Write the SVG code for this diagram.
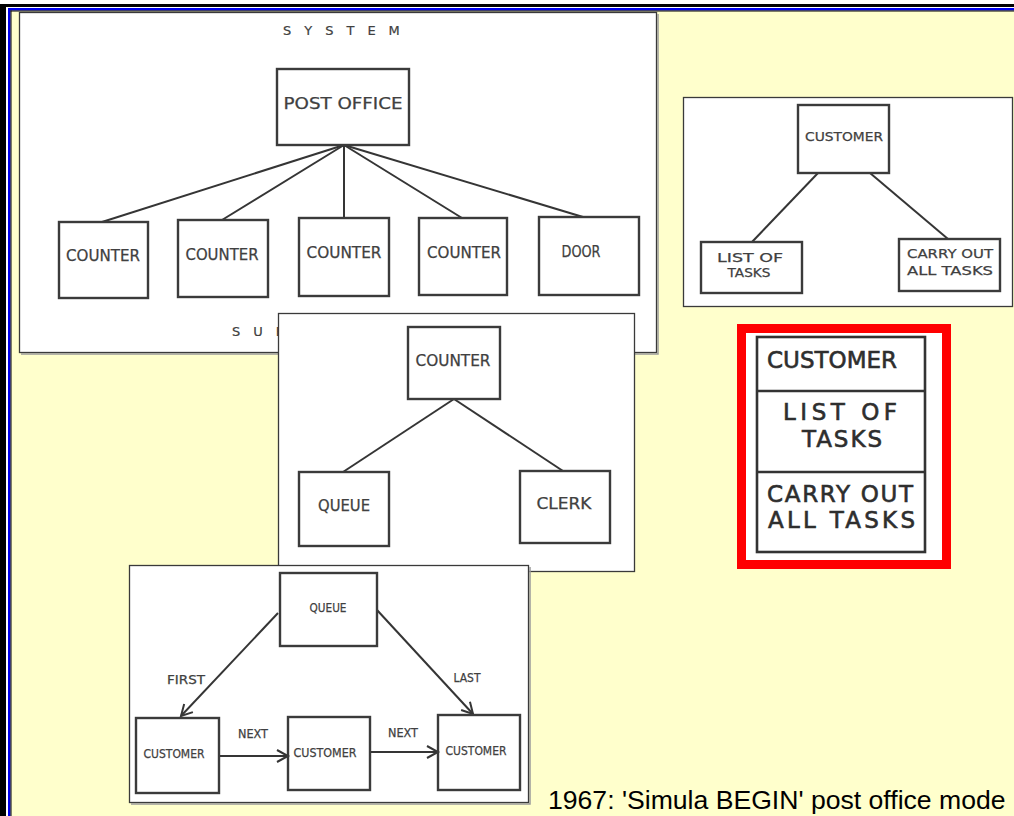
<svg xmlns="http://www.w3.org/2000/svg" width="1014" height="816" viewBox="0 0 1014 816">
  <style>
    .panel { fill: #ffffff; stroke: #3a3a3a; stroke-width: 1.3; }
    .shadow { fill: none; stroke: #9a9a9a; stroke-width: 1.5; }
    .box { fill: none; stroke: #3b3b3b; stroke-width: 2.4; }
    .wire { fill: none; stroke: #353535; stroke-width: 2; }
    .lbl { font-family: "DejaVu Sans", "Liberation Sans", sans-serif; fill: #404040; stroke: #404040; stroke-width: 0.25; text-anchor: middle; }
    .big { font-family: "DejaVu Sans", "Liberation Sans", sans-serif; fill: #2e2e2e; stroke: #2e2e2e; stroke-width: 0.6; font-size: 23px; }
    .spaced { font-family: "DejaVu Sans", "Liberation Sans", sans-serif; fill: #404040; stroke: #404040; stroke-width: 0.2; font-size: 13px; letter-spacing: 13px; }
  </style>
  <defs>
    <marker id="chevron" markerUnits="userSpaceOnUse" markerWidth="16" markerHeight="16" refX="12" refY="7" orient="auto">
      <path d="M1,1 L12,7 L1,13" fill="none" stroke="#353535" stroke-width="2"/>
    </marker>
  </defs>

  <!-- page background and frame -->
  <rect x="0" y="0" width="1014" height="816" fill="#ffffcc"/>
  <rect x="0" y="0" width="1014" height="4" fill="#ffffff"/>
  <rect x="0" y="4" width="1014" height="3" fill="#000000"/>
  <rect x="0" y="4" width="6" height="812" fill="#000000"/>
  <rect x="6" y="7" width="1008" height="1" fill="#ffffff"/>
  <rect x="6" y="7" width="2" height="809" fill="#ffffff"/>
  <rect x="8" y="8" width="1006" height="2.5" fill="#0000ee"/>
  <rect x="8" y="8" width="2.5" height="808" fill="#0000ee"/>
  <rect x="10.5" y="10.5" width="1003.5" height="1" fill="#000000"/>
  <rect x="10.5" y="10.5" width="1" height="805.5" fill="#000000"/>

  <!-- panel 1: system / subsystem tree -->
  <g id="panel-system">
    <rect class="panel" x="19.5" y="12.5" width="637" height="340"/>
    <path class="shadow" d="M658,14 V354 H21"/>
    <text class="spaced" x="283" y="35">SYSTEM</text>
    <text class="spaced" x="232" y="336">SUB</text>
  </g>
  <g id="system-connectors">
    <line class="wire" x1="344" y1="145" x2="102" y2="222"/>
    <line class="wire" x1="344" y1="145" x2="222" y2="220"/>
    <line class="wire" x1="344" y1="145" x2="344" y2="218"/>
    <line class="wire" x1="344" y1="145" x2="462" y2="218"/>
    <line class="wire" x1="344" y1="145" x2="583" y2="217"/>
  </g>
  <g id="post-office">
    <rect class="box" x="277" y="69" width="132" height="76"/>
    <text class="lbl" x="343" y="109" font-size="15" textLength="119" lengthAdjust="spacingAndGlyphs">POST OFFICE</text>
  </g>
  <g id="counter-1">
    <rect class="box" x="59" y="222" width="89" height="76"/>
    <text class="lbl" x="103" y="261" font-size="15" textLength="74" lengthAdjust="spacingAndGlyphs">COUNTER</text>
  </g>
  <g id="counter-2">
    <rect class="box" x="178" y="220" width="90" height="77"/>
    <text class="lbl" x="222" y="260" font-size="15" textLength="73" lengthAdjust="spacingAndGlyphs">COUNTER</text>
  </g>
  <g id="counter-3">
    <rect class="box" x="299" y="218" width="90" height="78"/>
    <text class="lbl" x="344" y="258" font-size="15" textLength="75" lengthAdjust="spacingAndGlyphs">COUNTER</text>
  </g>
  <g id="counter-4">
    <rect class="box" x="419" y="218" width="88" height="77"/>
    <text class="lbl" x="464" y="258" font-size="15" textLength="74" lengthAdjust="spacingAndGlyphs">COUNTER</text>
  </g>
  <g id="door">
    <rect class="box" x="539" y="217" width="100" height="78"/>
    <text class="lbl" x="581" y="257" font-size="15" textLength="39" lengthAdjust="spacingAndGlyphs">DOOR</text>
  </g>

  <!-- panel 2: counter decomposition -->
  <g id="panel-counter">
    <rect class="panel" x="278.5" y="313.5" width="356" height="258" stroke="#111"/>
  </g>
  <g id="counter-connectors">
    <line class="wire" x1="454" y1="399" x2="343" y2="472"/>
    <line class="wire" x1="454" y1="399" x2="563" y2="471"/>
  </g>
  <g id="counter-top">
    <rect class="box" x="408" y="327" width="92" height="72"/>
    <text class="lbl" x="453" y="366" font-size="15" textLength="75" lengthAdjust="spacingAndGlyphs">COUNTER</text>
  </g>
  <g id="queue">
    <rect class="box" x="299" y="472" width="90" height="74"/>
    <text class="lbl" x="344" y="511" font-size="15" textLength="52" lengthAdjust="spacingAndGlyphs">QUEUE</text>
  </g>
  <g id="clerk">
    <rect class="box" x="520" y="471" width="90" height="72"/>
    <text class="lbl" x="564" y="509" font-size="15" textLength="55" lengthAdjust="spacingAndGlyphs">CLERK</text>
  </g>

  <!-- panel 3: queue of customers -->
  <g id="panel-queue">
    <rect class="panel" x="129.5" y="565.5" width="399" height="237" stroke="#111"/>
    <path class="shadow" d="M530,567 V804 H131"/>
  </g>
  <g id="queue-connectors">
    <line class="wire" x1="278" y1="613" x2="181" y2="716" marker-end="url(#chevron)"/>
    <line class="wire" x1="377" y1="610" x2="473" y2="714" marker-end="url(#chevron)"/>
    <line class="wire" x1="219" y1="756" x2="288" y2="756" marker-end="url(#chevron)"/>
    <line class="wire" x1="370" y1="752" x2="438" y2="752" marker-end="url(#chevron)"/>
    <text class="lbl" x="186" y="684" font-size="12" textLength="38" lengthAdjust="spacingAndGlyphs">FIRST</text>
    <text class="lbl" x="467" y="682" font-size="12" textLength="27" lengthAdjust="spacingAndGlyphs">LAST</text>
    <text class="lbl" x="253" y="738" font-size="12" textLength="30" lengthAdjust="spacingAndGlyphs">NEXT</text>
    <text class="lbl" x="403" y="737" font-size="12" textLength="30" lengthAdjust="spacingAndGlyphs">NEXT</text>
  </g>
  <g id="queue-head">
    <rect class="box" x="280" y="573" width="97" height="73"/>
    <text class="lbl" x="328" y="612" font-size="12" textLength="37" lengthAdjust="spacingAndGlyphs">QUEUE</text>
  </g>
  <g id="customer-1">
    <rect class="box" x="136" y="718" width="83" height="75"/>
    <text class="lbl" x="174" y="758" font-size="12" textLength="61" lengthAdjust="spacingAndGlyphs">CUSTOMER</text>
  </g>
  <g id="customer-2">
    <rect class="box" x="288" y="717" width="82" height="73"/>
    <text class="lbl" x="325" y="757" font-size="12" textLength="63" lengthAdjust="spacingAndGlyphs">CUSTOMER</text>
  </g>
  <g id="customer-3">
    <rect class="box" x="438" y="715" width="82" height="75"/>
    <text class="lbl" x="476" y="755" font-size="12" textLength="61" lengthAdjust="spacingAndGlyphs">CUSTOMER</text>
  </g>

  <!-- panel 4: customer decomposition -->
  <g id="panel-customer">
    <rect class="panel" x="683.5" y="97.5" width="329" height="209"/>
  </g>
  <g id="customer-connectors">
    <line class="wire" x1="818" y1="173" x2="752" y2="242"/>
    <line class="wire" x1="870" y1="173" x2="948" y2="239"/>
  </g>
  <g id="customer-top">
    <rect class="box" x="798" y="105" width="91" height="68"/>
    <text class="lbl" x="844" y="141" font-size="13" textLength="78" lengthAdjust="spacingAndGlyphs">CUSTOMER</text>
  </g>
  <g id="list-of-tasks">
    <rect class="box" x="701" y="242" width="101" height="51"/>
    <text class="lbl" x="750" y="262" font-size="13" textLength="66" lengthAdjust="spacingAndGlyphs">LIST OF</text>
    <text class="lbl" x="749" y="277" font-size="13" textLength="43" lengthAdjust="spacingAndGlyphs">TASKS</text>
  </g>
  <g id="carry-out">
    <rect class="box" x="899" y="239" width="101" height="52"/>
    <text class="lbl" x="950" y="258" font-size="13" textLength="86" lengthAdjust="spacingAndGlyphs">CARRY OUT</text>
    <text class="lbl" x="950" y="275" font-size="13" textLength="86" lengthAdjust="spacingAndGlyphs">ALL TASKS</text>
  </g>

  <!-- highlighted class box -->
  <g id="class-box">
    <rect x="741.5" y="328.5" width="205" height="236" fill="#ffffff" stroke="#ff0000" stroke-width="9"/>
    <rect x="757" y="337" width="168" height="215" fill="none" stroke="#333" stroke-width="2.6"/>
    <line x1="757" y1="391" x2="925" y2="391" stroke="#333" stroke-width="2.6"/>
    <line x1="757" y1="472" x2="925" y2="472" stroke="#333" stroke-width="2.6"/>
    <text class="big" x="767" y="368" textLength="130" lengthAdjust="spacing">CUSTOMER</text>
    <text class="big" x="783" y="420" textLength="114" lengthAdjust="spacing">LIST OF</text>
    <text class="big" x="802" y="447" textLength="80" lengthAdjust="spacing">TASKS</text>
    <text class="big" x="767" y="502" textLength="146" lengthAdjust="spacing">CARRY OUT</text>
    <text class="big" x="768" y="528" textLength="147" lengthAdjust="spacing">ALL TASKS</text>
  </g>

  <text x="548" y="809" font-family="Liberation Sans, Arial, sans-serif" font-size="26.6" fill="#000">1967: 'Simula BEGIN' post office mode</text>
</svg>
